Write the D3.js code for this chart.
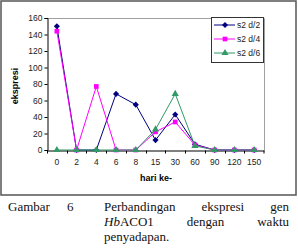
<!DOCTYPE html>
<meta charset="utf-8">
<script src="https://d3js.org/d3.v7.min.js"></script>
<style>
  body { margin: 0; background: #fff; }
  svg text { font-family: "Liberation Sans", Arial, sans-serif; }
</style>
<div id="chart"></div>
<script>
  // data
  var days = ["0", "2", "4", "6", "8", "15", "30", "60", "90", "120", "150"];
  var d2 = [150, 0, 0, 68, 55, 12, 43, 7, 0, 0, 0];
  var d4 = [144, 0, 77, 0, 0, 22, 34, 6, 0, 0, 0];
  var d6 = [0, 0, 0, 0, 0, 25, 68, 5, 0, 0, 0];
  var yTicks = [0, 20, 40, 60, 80, 100, 120, 140, 160];

  var series = [
    {name: "s2 d/2", values: d2, color: "#000080", shape: d3.symbolDiamond2, size: 24},
    {name: "s2 d/4", values: d4, color: "#ff00ff", shape: d3.symbolSquare, size: 22},
    {name: "s2 d/6", values: d6, color: "#339966", shape: d3.symbolTriangle, size: 22}
  ];

  var W = 298, H = 252;
  var svg = d3.select("#chart").append("svg")
    .attr("width", W).attr("height", H);

  // outer frame of the chart
  svg.append("rect")
    .attr("x", 1).attr("y", 1).attr("width", 295).attr("height", 194)
    .attr("fill", "#fff").attr("stroke", "#555").attr("stroke-width", 1.5);

  var plot = {left: 47, right: 264, top: 18, bottom: 150};

  var x = d3.scaleBand().domain(days).range([plot.left, plot.right]);
  var y = d3.scaleLinear().domain([0, 160]).range([plot.bottom, plot.top]);
  var cx = function (i) { return x(days[i]) + x.bandwidth() / 2; };

  // plot area border (grey)
  svg.append("path")
    .attr("d", "M" + plot.left + "," + (plot.top + 0.5) + "H" + (plot.right + 0.5) + "V" + plot.bottom)
    .attr("fill", "none").attr("stroke", "#a0a0a0").attr("stroke-width", 1);

  // Y axis
  var yAxis = svg.append("g")
    .attr("transform", "translate(" + (plot.left + 0.5) + ",0)")
    .call(d3.axisLeft(y).tickValues(yTicks).tickSize(3).tickPadding(2));
  yAxis.select(".domain").attr("stroke", "#000");
  yAxis.selectAll("text").style("font-size", "8.5px").attr("fill", "#222")
    .style("font-family", "Liberation Sans, Arial, sans-serif");

  // X axis: labels at band centres, tick marks between categories
  var xAxis = svg.append("g")
    .attr("transform", "translate(0," + (plot.bottom + 0.5) + ")")
    .call(d3.axisBottom(x).tickSize(0).tickPadding(8));
  xAxis.select(".domain").attr("stroke", "#000");
  xAxis.selectAll("text").style("font-size", "8.5px").attr("fill", "#222")
    .style("font-family", "Liberation Sans, Arial, sans-serif");
  xAxis.selectAll(".edge")
    .data(days.concat(["end"]))
    .enter().append("line")
    .attr("x1", function (d) { return d === "end" ? plot.right : Math.round(x(d)) + 0.5; })
    .attr("x2", function (d) { return d === "end" ? plot.right : Math.round(x(d)) + 0.5; })
    .attr("y1", 0).attr("y2", 3)
    .attr("stroke", "#000");

  // axis titles
  svg.append("text")
    .attr("x", 156).attr("y", 181)
    .attr("text-anchor", "middle")
    .style("font-size", "9px").style("font-weight", "bold")
    .text("hari ke-");
  svg.append("text")
    .attr("transform", "translate(18,86) rotate(-90)")
    .attr("text-anchor", "middle")
    .style("font-size", "9px").style("font-weight", "bold")
    .text("ekspresi");

  // series lines and markers
  var line = d3.line()
    .x(function (d, i) { return cx(i); })
    .y(function (d) { return y(d); });

  series.forEach(function (s) {
    svg.append("path")
      .datum(s.values)
      .attr("d", line)
      .attr("fill", "none")
      .attr("stroke", s.color)
      .attr("stroke-width", 1);
    svg.selectAll(null)
      .data(s.values)
      .enter().append("path")
      .attr("transform", function (d, i) { return "translate(" + cx(i) + "," + y(d) + ")"; })
      .attr("d", d3.symbol().type(s.shape).size(s.size))
      .attr("fill", s.color);
  });

  // legend
  var lg = svg.append("g").attr("transform", "translate(211,17)");
  lg.append("rect")
    .attr("x", 0.5).attr("y", 0.5).attr("width", 52).attr("height", 45)
    .attr("fill", "#fff").attr("stroke", "#333").attr("stroke-width", 1);
  series.forEach(function (s, i) {
    var yy = 8 + i * 14;
    lg.append("line")
      .attr("x1", 3).attr("x2", 24).attr("y1", yy).attr("y2", yy)
      .attr("stroke", s.color).attr("stroke-width", 1);
    lg.append("path")
      .attr("transform", "translate(14," + yy + ")")
      .attr("d", d3.symbol().type(s.shape).size(s.size))
      .attr("fill", s.color);
    lg.append("text")
      .attr("x", 26).attr("y", yy + 3)
      .style("font-size", "8.5px").attr("fill", "#222")
      .text(s.name);
  });

  // caption below the chart, justified like the source
  var cap = svg.append("g")
    .style("font-size", "13px").attr("fill", "#111");
  cap.append("text").attr("x", 8).attr("y", 211)
    .style("font-family", "Liberation Serif, 'Times New Roman', serif").text("Gambar");
  cap.append("text").attr("x", 67).attr("y", 211)
    .style("font-family", "Liberation Serif, 'Times New Roman', serif").text("6");

  var lines = [
    {y: 211, words: [["Perbandingan"], ["ekspresi"], ["gen"]], justify: true},
    {y: 226, words: [["Hb", "italic", "ACO1"], ["dengan"], ["waktu"]], justify: true},
    {y: 241, words: [["penyadapan."]], justify: false}
  ];
  var x0 = 104, x1 = 289;
  lines.forEach(function (ln) {
    var nodes = ln.words.map(function (w) {
      var t = cap.append("text").attr("y", ln.y)
        .style("font-family", "Liberation Serif, 'Times New Roman', serif");
      if (w.length === 3) {
        t.append("tspan").style("font-style", "italic").text(w[0]);
        t.append("tspan").text(w[2]);
      } else {
        t.text(w[0]);
      }
      return t;
    });
    var widths = nodes.map(function (t) { return t.node().getComputedTextLength(); });
    var total = d3.sum(widths);
    var gap = ln.justify && nodes.length > 1 ? (x1 - x0 - total) / (nodes.length - 1) : 0;
    var pos = x0;
    nodes.forEach(function (t, i) {
      t.attr("x", pos);
      pos += widths[i] + gap;
    });
  });
</script>
